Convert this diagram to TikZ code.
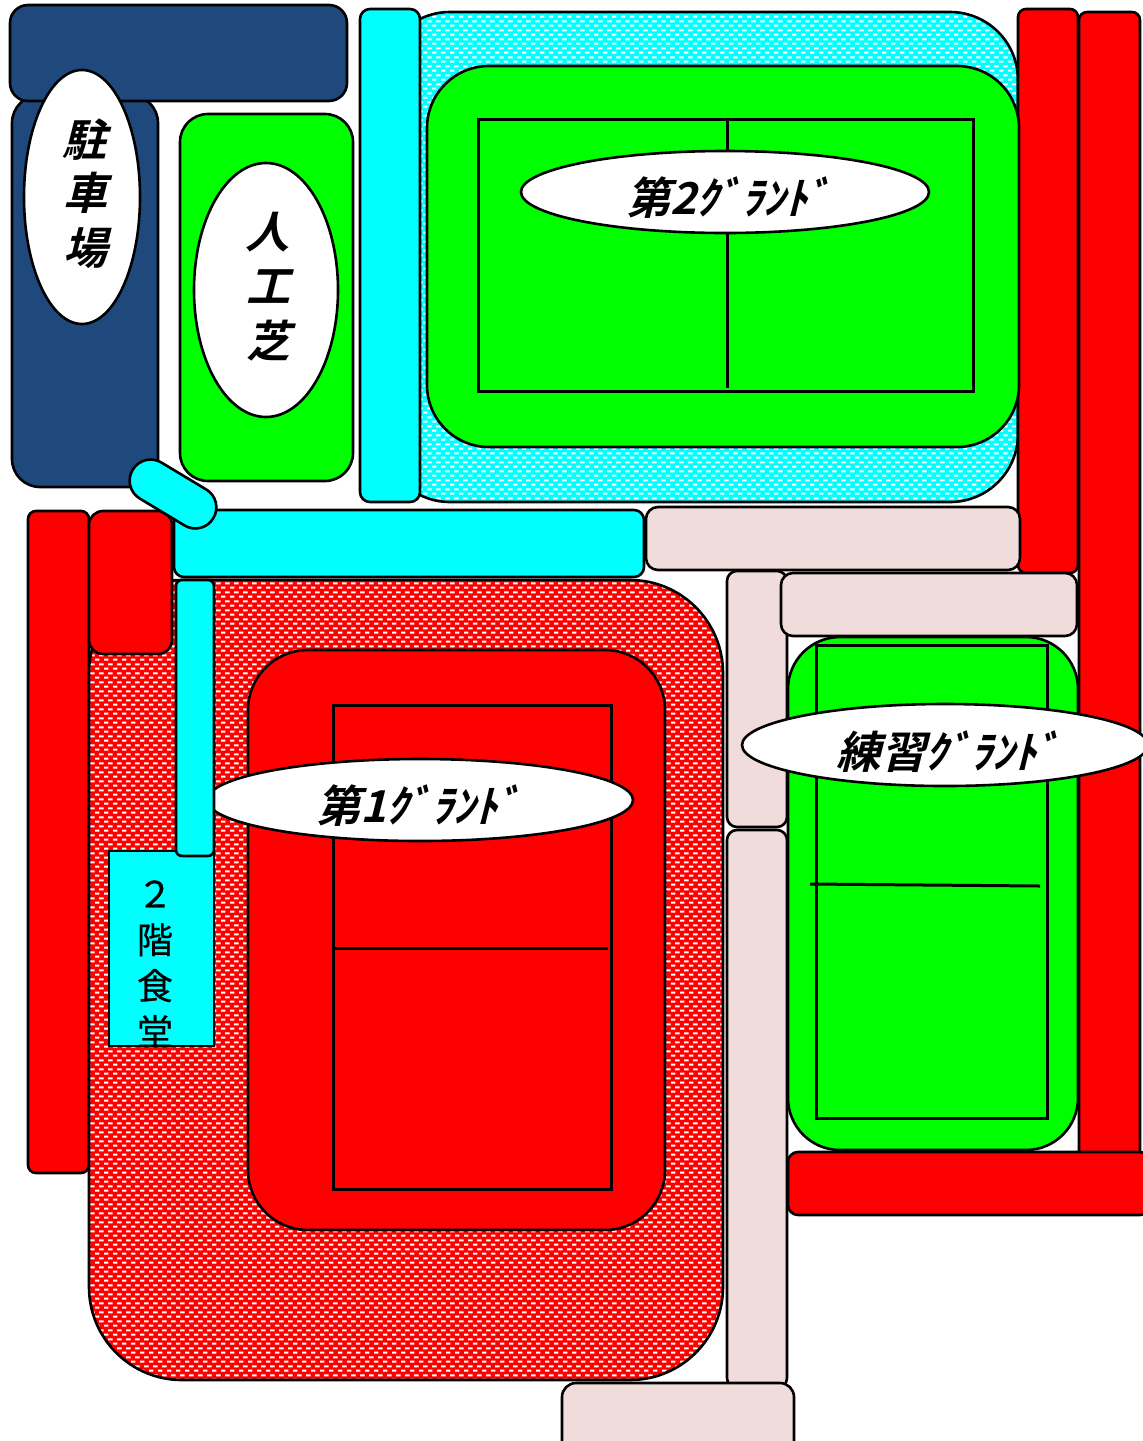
\documentclass[tikz,border=0pt]{standalone}
\usepackage{fontspec}
\usetikzlibrary{patterns}
\newfontfamily\jpslant[FakeSlant=0.25]{Noto Sans CJK JP Bold}
\newfontfamily\jplabel[FakeSlant=0.25,FakeStretch=1.01]{Noto Sans CJK JP Bold}
\newfontfamily\jpreg[FakeBold=0.4]{Noto Sans CJK JP}
\definecolor{navy}{HTML}{1F497D}
\definecolor{pinkish}{HTML}{F0DCDA}
\definecolor{cy}{HTML}{00FFFF}
\definecolor{gr}{HTML}{00FF00}
\definecolor{rd}{HTML}{FF0000}
\pgfdeclarepatternformonly{dashbrick}{\pgfqpoint{0pt}{0pt}}{\pgfqpoint{4.3pt}{4.3pt}}{\pgfqpoint{4.3pt}{4.3pt}}{%
  \pgfpathrectangle{\pgfqpoint{0.0pt}{0.25pt}}{\pgfqpoint{2.3pt}{1.05pt}}%
  \pgfpathrectangle{\pgfqpoint{2.15pt}{2.4pt}}{\pgfqpoint{2.3pt}{1.05pt}}%
  \pgfusepath{fill}}
\tikzset{
  outl/.style={draw=black,line width=1.3pt},
  navyzone/.style={outl,fill=navy},
  greenzone/.style={outl,fill=gr},
  redzone/.style={outl,fill=rd},
  cyanzone/.style={outl,fill=cy},
  pinkzone/.style={outl,fill=pinkish},
  reddots/.style={outl,preaction={fill=rd},pattern=dashbrick,pattern color=white},
  cyandots/.style={outl,preaction={fill=cy},pattern=dashbrick,pattern color=white},
  fieldline/.style={draw=black,line width=1.5pt},
  tag/.style={outl,fill=white},
  slanttext/.style={font=\jplabel\fontsize{22}{22}\selectfont,inner sep=0pt},
  vertchar/.style={font=\jpslant\fontsize{22}{22}\selectfont,inner sep=0pt},
  cafeteria/.style={font=\jpreg\fontsize{18}{23}\selectfont,inner sep=0pt,align=center}
}
\newcommand{\rr}[6]{\path[#1,rounded corners=#6*0.5pt] (#2,#3) rectangle (#4,#5);}
\begin{document}
\begin{tikzpicture}[x=0.5pt,y=-0.5pt]
\useasboundingbox (0,0) rectangle (1142,1441);
% parking
\rr{navyzone}{12}{95}{158}{487}{28}
\rr{navyzone}{10}{5}{347}{101}{18}
\draw[tag] (82,197) ellipse[x radius=58,y radius=127];
\node[vertchar] (p1) at (84,140) {駐};
\node[vertchar] (p2) at (85,193) {車};
\node[vertchar] (p3) at (85,248) {場};
% artificial turf
\rr{greenzone}{180}{114}{353}{481}{28}
\draw[tag] (266,290) ellipse[x radius=72,y radius=127];
\node[vertchar] (t1) at (267,232) {人};
\node[vertchar] (t2) at (268,287) {工};
\node[vertchar] (t3) at (268,341) {芝};
% second ground
\rr{cyandots}{382}{12}{1018}{502}{68}
\rr{cyanzone}{360}{9}{420}{502}{10}
\rr{redzone}{1018}{9}{1078}{573}{8}
\rr{redzone}{1079}{12}{1140}{1170}{8}
\rr{greenzone}{427}{66}{1019}{447}{62}
\draw[fieldline] (478,119) rectangle (973,391);
\draw[fieldline] (727,119) -- (727,388);
\draw[tag] (725,192) ellipse[x radius=204,y radius=41];
\node[slanttext] (g2) at (728,198) {第2ｸﾞﾗﾝﾄﾞ};
% first ground
\rr{redzone}{28}{511}{89}{1173}{8}
\rr{reddots}{89}{580}{723}{1380}{93}
\rr{redzone}{89}{511}{172}{654}{14}
\rr{redzone}{248}{650}{665}{1230}{60}
\draw[fieldline] (333,705) rectangle (611,1189);
\draw[fieldline] (333,948) -- (608,948);
\draw[tag] (420,800) ellipse[x radius=213,y radius=41];
\node[slanttext] (g1) at (418,806) {第1ｸﾞﾗﾝﾄﾞ};
% cafeteria and passages
\draw[cyanzone] (109,851) rectangle (214,1046);
\node[cafeteria,anchor=north] (cafe) at (155,880) {２\\階\\食\\堂};
\rr{cyanzone}{176}{580}{214}{856}{6}
\rr{cyanzone}{174}{510}{644}{577}{10}
\path[cyanzone,rounded corners=10.4pt,shift={(173,494)},rotate=-31] (-47,-21) rectangle (47,21);
% pink paths
\rr{pinkzone}{646}{507}{1020}{570}{12}
\rr{pinkzone}{727}{571}{787}{827}{10}
\rr{pinkzone}{727}{830}{787}{1388}{10}
\rr{pinkzone}{562}{1383}{794}{1460}{14}
% practice ground
\rr{greenzone}{788}{637}{1078}{1150}{52}
\rr{pinkzone}{781}{573}{1077}{636}{12}
\draw[fieldline] (816,645) rectangle (1047,1118);
\draw[fieldline] (810,884) -- (1040,886);
\rr{redzone}{788}{1152}{1150}{1215}{10}
\draw[tag] (945,745) ellipse[x radius=203,y radius=41];
\node[slanttext] (g3) at (948,752) {練習ｸﾞﾗﾝﾄﾞ};
\end{tikzpicture}
\end{document}
